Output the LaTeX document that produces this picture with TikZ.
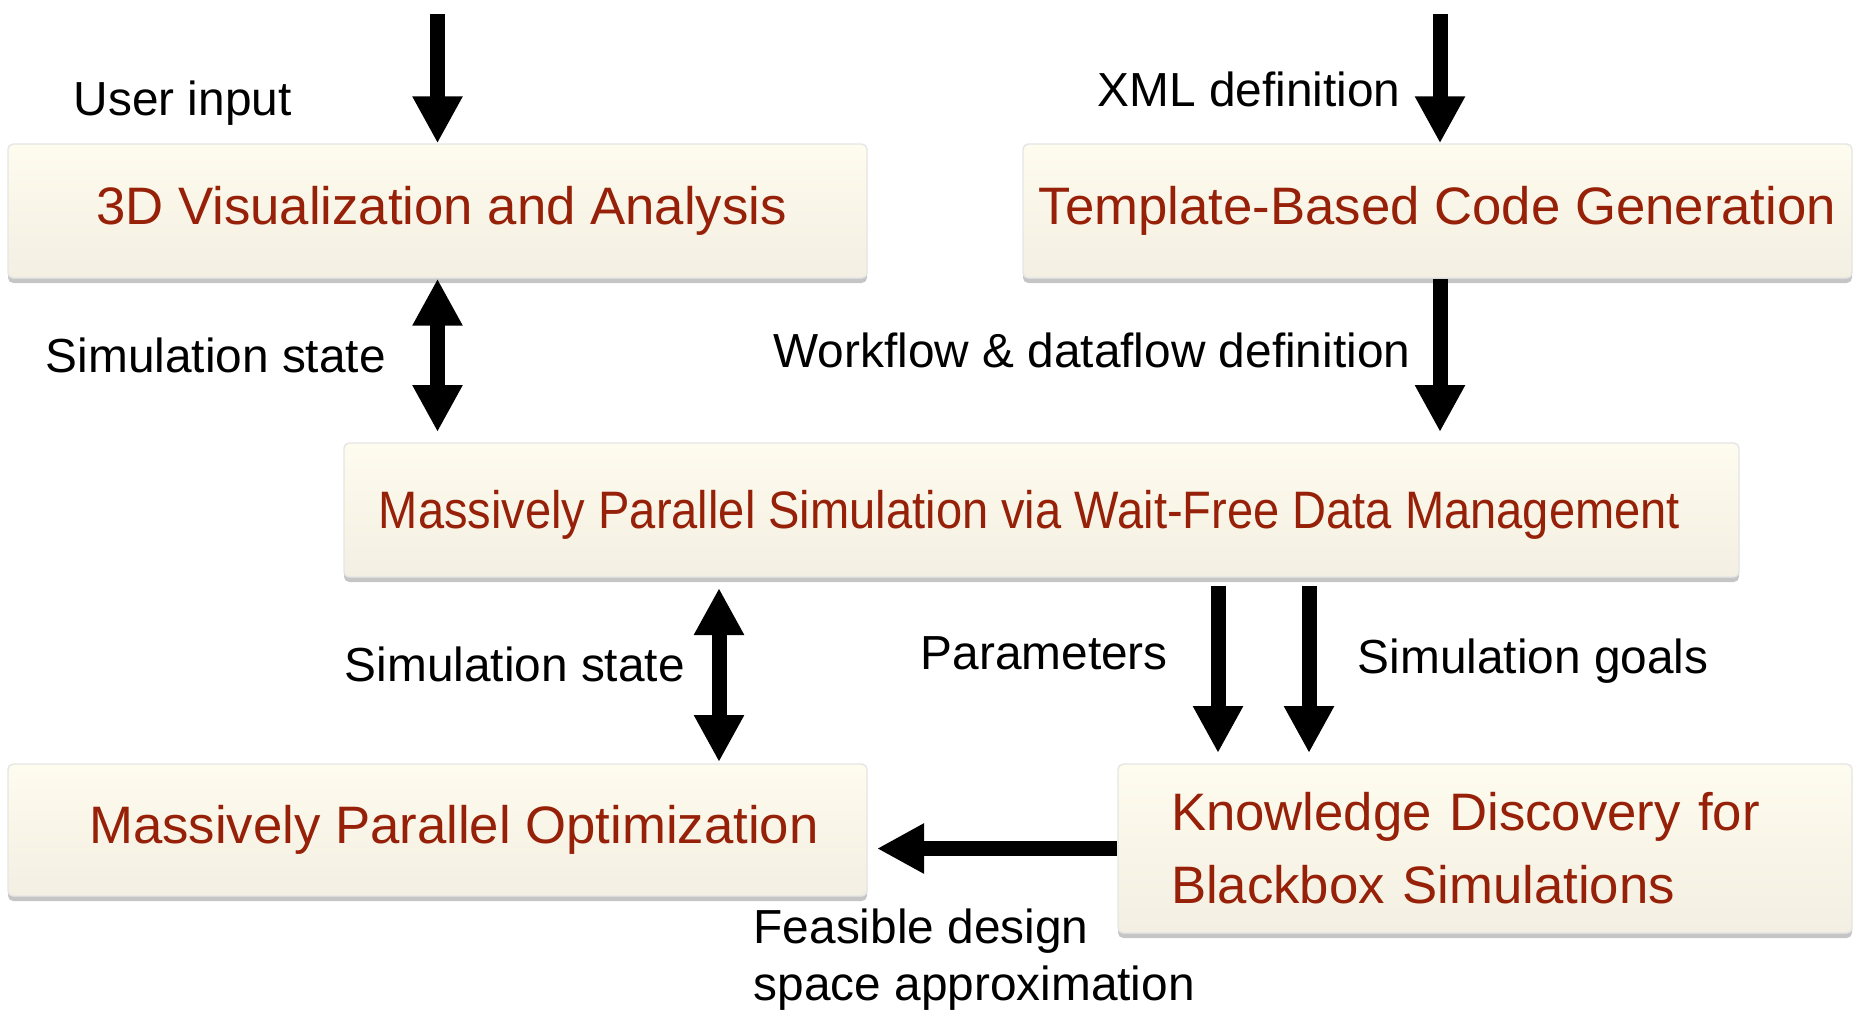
\documentclass[tikz,border=0pt]{standalone}
\usepackage{fontspec}
\setmainfont{Liberation Sans}
\usepackage{graphicx}
\usetikzlibrary{arrows.meta,shadows,positioning}
\definecolor{boxred}{RGB}{150,32,8}
\definecolor{boxtop}{RGB}{254,252,238}
\definecolor{boxbot}{RGB}{243,239,226}

\begin{document}
\begin{tikzpicture}[
 blk/.style={draw=black!10, rounded corners=1.5pt, top color=boxtop, bottom color=boxbot,
  text=boxred, font=\fontsize{15}{20.8}\selectfont, inner xsep=2pt, minimum height=1.34cm,
  drop shadow={shadow xshift=0pt,shadow yshift=-0.05cm,fill=black!45,opacity=.5}},
 lbl/.style={font=\fontsize{13.6}{16.2}\selectfont, inner sep=0pt},
 arr/.style={line width=0.15cm, -{Triangle[length=0.47cm,width=0.47cm]}},
 dblarr/.style={line width=0.15cm, {Triangle[length=0.47cm,width=0.47cm]}-{Triangle[length=0.47cm,width=0.47cm]}}
]
 \useasboundingbox (0,0) rectangle (18.54,-10.09);
 \clip (0,0) rectangle (18.54,-10.09);

 % boxes
 \node (viz) at (4.375,-2.11) [blk, minimum width=8.59cm] {\hspace*{0.08cm}3D Visualization and Analysis};
 \node (code) at (14.375,-2.11) [blk, minimum width=8.29cm] {Template-Based Code Generation};
 \node (sim) at (10.415,-5.10) [blk, minimum width=13.95cm, text height=0.485cm, text depth=0.111cm] {\hspace*{-0.24cm}\scalebox{0.893}[1]{Massively Parallel Simulation via Wait-Free Data Management}};
 \node (opt) at (4.375,-8.30) [blk, minimum width=8.59cm, minimum height=1.32cm] {\hspace*{0.33cm}Massively Parallel Optimization};
 \node (kdd) at (14.85,-8.485) [blk, minimum height=1.69cm, text width=6.28cm, inner xsep=0.53cm, align=left] {Knowledge Discovery for\\Blackbox Simulations};

 % labels
 \node (ui) at (0.73,-1.15) [lbl, anchor=base west] {User input};
 \node (xml) at (10.97,-1.06) [lbl, anchor=base west] {XML definition};
 \node (ss1) at (0.45,-3.72) [lbl, anchor=base west] {Simulation state};
 \node (wf) at (14.11,-3.67) [lbl, anchor=base east] {Workflow \& dataflow definition};
 \node (ss2) at (3.44,-6.81) [lbl, anchor=base west] {Simulation state};
 \node (par) at (9.20,-6.69) [lbl, anchor=base west] {Parameters};
 \node (goal) at (13.57,-6.73) [lbl, anchor=base west] {Simulation goals};
 \node (feas) at (7.53,-9.08) [lbl, anchor=north west, align=left] {Feasible design\\space approximation};

 % coordinates
 \coordinate (i1) at (4.375,-0.14);
 \coordinate (i2) at (14.40,-0.14);
 \coordinate (o3) at (4.375,-4.32);
 \coordinate (o4) at (14.40,-4.32);
 \coordinate (s5) at (7.19,-5.88);
 \coordinate (t5) at (7.19,-7.62);
 \coordinate (s6) at (12.18,-5.86);
 \coordinate (t6) at (12.18,-7.53);
 \coordinate (s7) at (13.09,-5.86);
 \coordinate (t7) at (13.09,-7.53);
 \coordinate (t8) at (8.77,-8.485);

 % connectors
 \draw[arr] (i1) -- (viz);
 \draw[arr] (i2) -- (i2 |- code.north);
 \draw[dblarr] (viz) -- (o3);
 \draw[arr] (o4 |- code.south) -- (o4);
 \draw[dblarr] (s5) -- (t5);
 \foreach \k in {6,7} {
  \draw[arr] (s\k) -- (t\k);
 };
 \draw[arr] (kdd.west) -- (t8);
\end{tikzpicture}
\end{document}
